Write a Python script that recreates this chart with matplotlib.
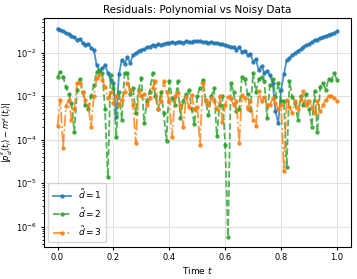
import numpy as np
import matplotlib
matplotlib.use("Agg")
import matplotlib.pyplot as plt

t = np.linspace(0, 1, 101)

res_d1 = [
    0.036, 0.034, 0.031, 0.029, 0.027, 0.024, 0.023, 0.020, 0.021, 0.017,
    0.015, 0.016, 0.013, 0.0115, 0.0052, 0.0038, 0.0045, 0.0051, 0.0035, 0.0023,
    0.0020, 0.00034, 0.0032, 0.0068, 0.0056, 0.0079, 0.0058, 0.0089, 0.0098, 0.011,
    0.0115, 0.012, 0.0132, 0.0138, 0.0151, 0.0145, 0.0158, 0.0151, 0.0162, 0.0166,
    0.0166, 0.0174, 0.0166, 0.0178, 0.0178, 0.0170, 0.0182, 0.0178, 0.0178, 0.0186,
    0.0182, 0.0182, 0.0178, 0.0178, 0.0170, 0.0174, 0.0166, 0.0170, 0.0158, 0.0158,
    0.0151, 0.0145, 0.0138, 0.0132, 0.0117, 0.0132, 0.0105, 0.0112, 0.0089, 0.0095,
    0.0062, 0.0071, 0.0040, 0.0050, 0.0034, 0.0038, 0.0031, 0.0020, 0.00045, 0.00024,
    0.0014, 0.0032, 0.0068, 0.0074, 0.0089, 0.0098, 0.0112, 0.012, 0.0138, 0.0151,
    0.0158, 0.0174, 0.0195, 0.020, 0.022, 0.023, 0.024, 0.026, 0.027, 0.028,
    0.031,
]

res_d2 = [
    2.8e-3, 3.6e-3, 2.75e-3, 1.66e-3, 1.12e-3, 6.9e-4, 1.5e-4, 1.41e-3, 2.5e-3, 1.26e-3,
    6.3e-4, 5.0e-4, 1.0e-3, 1.78e-3, 3.6e-3, 4.0e-3, 3.5e-3, 5.0e-4, 1.35e-5, 3.1e-3,
    1.58e-3, 1.12e-4, 1.26e-3, 2.9e-4, 3.4e-3, 3.5e-3, 1.12e-3, 1.58e-3, 4.0e-4, 1.41e-3,
    2.57e-3, 2.4e-4, 7.9e-4, 1.26e-3, 3.4e-3, 1.0e-3, 5.0e-4, 1.26e-3, 4.0e-4, 9.5e-5,
    2.19e-3, 8.9e-4, 6.3e-4, 2.19e-3, 3.2e-4, 7.9e-4, 1.12e-3, 1.38e-3, 5.0e-4, 2.3e-4,
    1.0e-3, 1.58e-3, 2.34e-3, 7.9e-4, 3.7e-4, 1.0e-3, 1.51e-3, 1.23e-4, 6.3e-4, 1.0e-3,
    7.6e-5, 5.9e-7, 2.0e-3, 1.26e-3, 4.5e-4, 5.0e-4, 2.75e-3, 2.5e-3, 1.12e-3, 4.9e-4,
    3.4e-3, 1.26e-3, 2.5e-3, 2.82e-3, 2.24e-3, 3.2e-4, 1.78e-3, 2.5e-3, 9.8e-4, 2.0e-3,
    7.9e-4, 7.6e-4, 2.3e-5, 2.19e-3, 9.8e-4, 7.1e-4, 2.9e-4, 1.0e-3, 6.3e-4, 1.12e-3,
    5.2e-4, 2.0e-4, 1.29e-3, 1.5e-4, 1.66e-3, 2.0e-3, 1.41e-3, 2.5e-3, 2.34e-3, 3.4e-3,
    2.4e-3,
]

res_d3 = [
    2.1e-4, 8.3e-4, 6.5e-5, 5.8e-4, 8.3e-4, 2.9e-4, 5.0e-4, 2.0e-3, 2.04e-3, 1.26e-3,
    8.3e-4, 6.3e-4, 1.95e-4, 1.0e-3, 2.57e-3, 3.1e-3, 2.4e-3, 1.66e-3, 8.9e-4, 1.26e-3,
    6.9e-4, 1.0e-3, 6.3e-4, 8.3e-4, 1.26e-3, 2.0e-3, 1.41e-3, 6.3e-4, 8.3e-5, 1.29e-3,
    1.0e-3, 1.12e-3, 6.3e-4, 8.9e-4, 1.58e-3, 2.19e-3, 5.2e-4, 7.9e-4, 2.19e-3, 1.26e-3,
    7.9e-4, 1.17e-4, 1.0e-3, 1.17e-3, 6.3e-4, 2.0e-4, 9.5e-4, 5.6e-4, 1.07e-3, 5.0e-4,
    5.6e-4, 7.6e-5, 2.0e-3, 8.3e-4, 6.3e-4, 8.9e-4, 7.9e-4, 5.0e-4, 1.0e-3, 2.6e-4,
    6.3e-4, 9.8e-4, 8.9e-4, 6.3e-4, 7.9e-4, 8.3e-5, 1.07e-3, 8.9e-4, 5.0e-4, 7.9e-4,
    2.9e-4, 2.1e-4, 1.29e-3, 7.6e-4, 9.8e-4, 6.3e-4, 6.3e-4, 8.9e-4, 7.1e-4, 5.0e-4,
    6.3e-4, 1.9e-5, 8.3e-4, 5.6e-4, 4.1e-4, 7.9e-4, 5.0e-4, 8.3e-4, 1.29e-3, 6.3e-4,
    7.9e-4, 5.6e-4, 4.0e-4, 7.9e-4, 4.5e-4, 6.3e-4, 8.3e-4, 1.02e-3, 1.0e-3, 8.9e-4,
    7.6e-4,
]

labels = [r"$\tilde{d}=1$", r"$\tilde{d}=2$", r"$\tilde{d}=3$"]

fig = plt.figure(figsize=(3.57, 2.79), dpi=100)
ax = fig.add_axes([0.122, 0.115, 0.861, 0.82])

ax.plot(t, res_d1, "-o", color="tab:blue", lw=1.3, ms=2.2, alpha=0.8, label=labels[0])
ax.plot(t, res_d2, "--o", color="tab:green", lw=1.3, ms=2.2, alpha=0.8, label=labels[1])
ax.plot(t, res_d3, "-.o", color="tab:orange", lw=1.3, ms=2.2, alpha=0.8, label=labels[2])

ax.set_yscale("log")
ax.grid(True, color="#e0e0e0", lw=0.8)
ax.set_axisbelow(True)
ax.set_title("Residuals: Polynomial vs Noisy Data", fontsize=7.5, pad=4)
ax.set_xlabel(r"Time $t$", fontsize=6.5, labelpad=2)
ax.set_ylabel(r"$|p^{\varepsilon}_{\tilde{d}}(t_i) - m^{\varepsilon}(t_i)|$", fontsize=6, labelpad=1)
ax.set_xticks([0.0, 0.2, 0.4, 0.6, 0.8, 1.0])
ax.tick_params(labelsize=6, length=2.5, pad=2)
ax.tick_params(which="minor", length=1.5)
ax.legend(loc="lower left", fontsize=6.5, handlelength=2.0, borderpad=0.5, labelspacing=0.5)

fig.savefig("out.png", dpi=100)
